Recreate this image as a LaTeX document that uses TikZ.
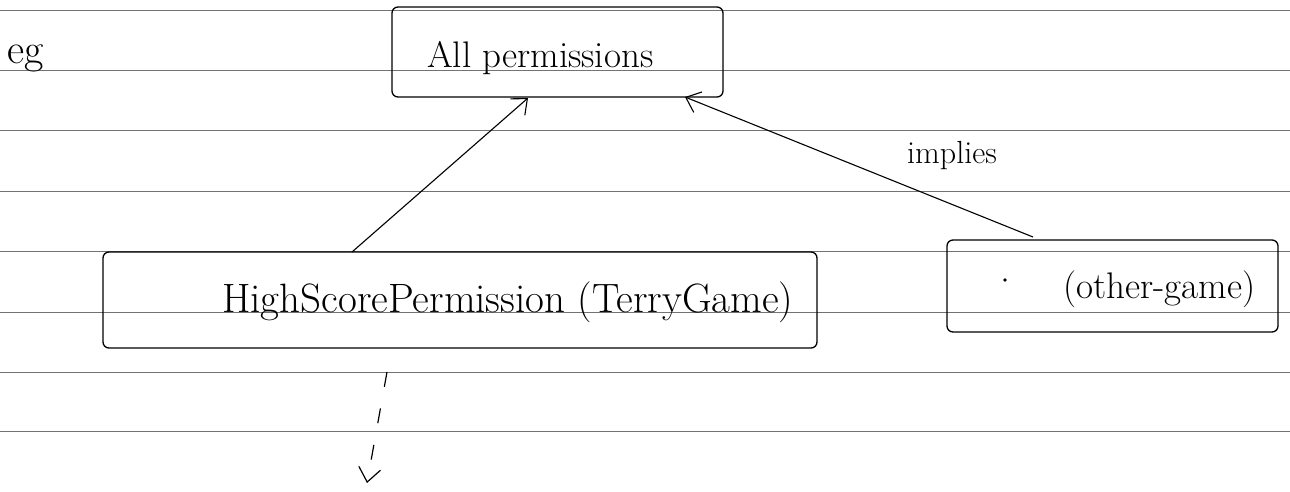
\documentclass[tikz,border=0pt]{standalone}
\usetikzlibrary{arrows.meta,calc}
\begin{document}
\begin{tikzpicture}[x=1pt,y=-1pt,
  ruled/.style={draw=black!55,line width=0.8pt},
  box/.style={draw,line width=1.3pt,rounded corners=6pt,inner sep=0pt},
  hand/.style={inner sep=0pt,anchor=base west},
  arr/.style={line width=1.1pt,-{Straight Barb[length=13pt,width=22pt]}}]
\useasboundingbox (0,0) rectangle (1290,491);
% ruled paper lines
\foreach \yy in {10,70,130,191,251,312,372,431}
  \draw[ruled] (0,\yy) -- (1290,\yy);
\node[hand,font=\fontsize{42}{46}\selectfont] (eg) at (7,63) {eg};
\node[box,minimum width=331pt,minimum height=90pt] (all) at (557.5,52) {};
\node[hand,font=\fontsize{37}{40}\selectfont] (alltxt) at (427,67) {All permissions};
\node[box,minimum width=714pt,minimum height=96pt] (hs) at (460,300) {};
\node[hand,font=\fontsize{41}{44}\selectfont] (hstxt) at (222,312) {HighScorePermission (TerryGame)};
\node[box,minimum width=331pt,minimum height=92pt] (og) at (1112.5,286) {};
\node[hand,font=\fontsize{37}{40}\selectfont] (ogtxt) at (1063,298) {(other-game)};
\fill (1005,280) circle (1.8pt);
\node[hand,font=\fontsize{32}{36}\selectfont] (imp) at (907,163) {implies};
\coordinate (a1) at (352,252);
\coordinate (a1t) at (528,98);
\coordinate (a2) at (1033,237);
\coordinate (a2t) at (685,97);
\draw[arr] (a1) -- (a1t);
\draw[arr] (a2) -- (a2t);
\coordinate (d0) at (387,372);
\coordinate (d1) at (367,483);
\draw[line width=1.2pt,dash pattern=on 15pt off 22pt,-{Straight Barb[length=14pt,width=22pt]}] (d0) -- (d1);
\end{tikzpicture}
\end{document}
